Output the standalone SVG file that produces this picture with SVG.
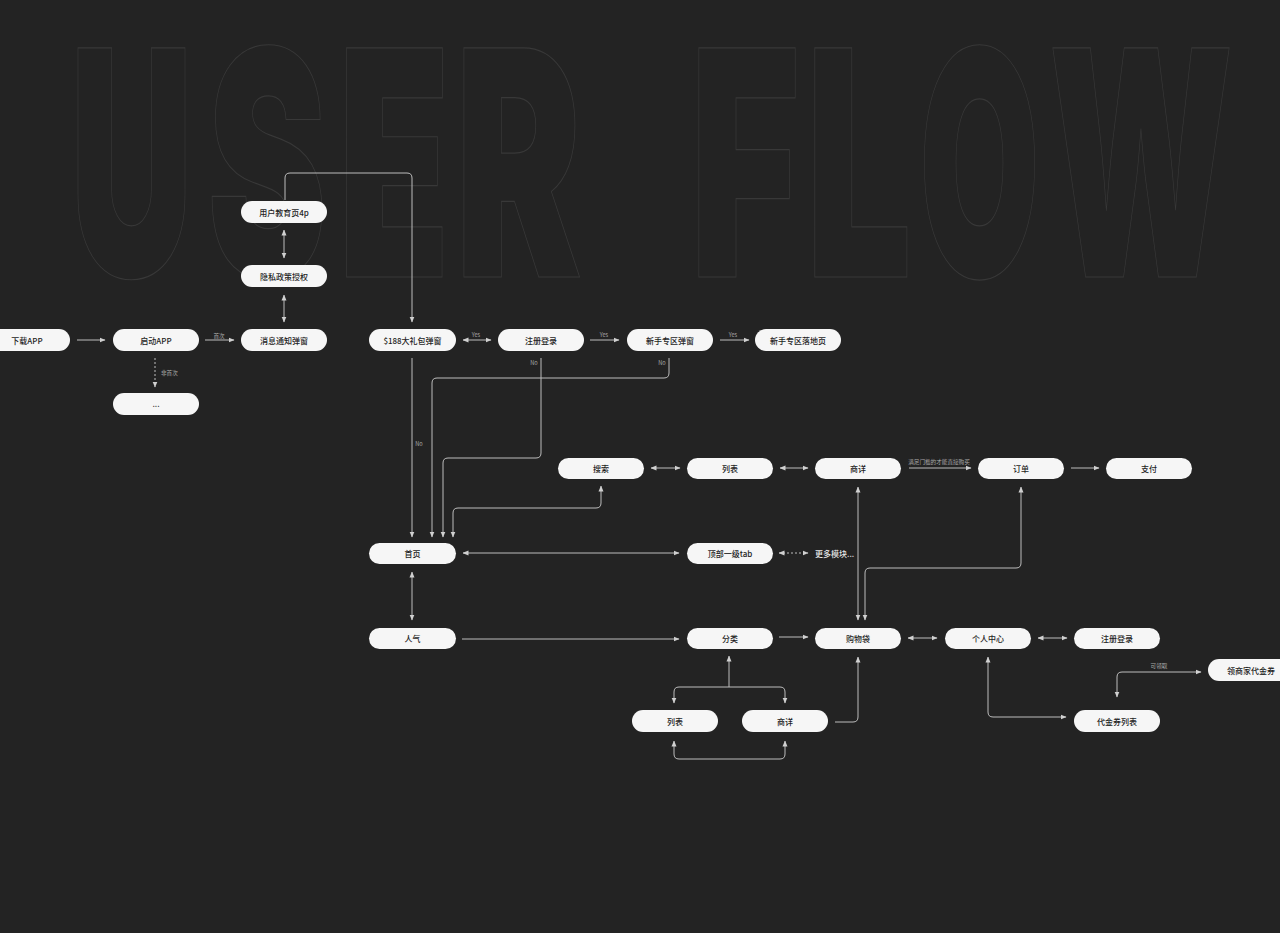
<svg xmlns="http://www.w3.org/2000/svg" width="1280" height="933" viewBox="0 0 1280 933">
<style>
.bg{fill:#232323}
.big{fill:none;stroke:#383838;stroke-width:1.2;font-family:Inter,"DejaVu Sans","Liberation Sans",sans-serif;font-weight:900;font-size:315px}
.pill{fill:#f6f6f6}
.nt{fill:#1e1e1e;font-family:"Noto Sans CJK SC","Noto Sans",sans-serif;font-size:8px;font-weight:500;text-anchor:middle;dominant-baseline:central}
.lab{fill:#a8a8a8;font-family:"Noto Sans CJK SC","Noto Sans",sans-serif;font-size:5.6px;text-anchor:middle}
.free{fill:#e8e8e8;font-family:"Noto Sans CJK SC","Noto Sans",sans-serif;font-size:8px;font-weight:500;dominant-baseline:central}
.c{fill:none;stroke:#bdbdbd;stroke-width:1}
.e{marker-end:url(#ah)}
.s{marker-start:url(#ah)}
.d{stroke-dasharray:2 2}
</style>
<defs>
<marker id="ah" viewBox="0 0 6 6" refX="5.5" refY="3" markerWidth="6" markerHeight="6" markerUnits="userSpaceOnUse" orient="auto-start-reverse">
<path d="M0,0.5 L6,3 L0,5.5 z" fill="#d0d0d0"/>
</marker>
</defs>
<rect class="bg" x="0" y="0" width="1280" height="933"/>
<g id="title">
<text class="big" x="70" y="277" textLength="123" lengthAdjust="spacingAndGlyphs">U</text>
<text class="big" x="207" y="277" textLength="120" lengthAdjust="spacingAndGlyphs">S</text>
<text class="big" x="338" y="277" textLength="112" lengthAdjust="spacingAndGlyphs">E</text>
<text class="big" x="455" y="277" textLength="127" lengthAdjust="spacingAndGlyphs">R</text>
<text class="big" x="690" y="277" textLength="110" lengthAdjust="spacingAndGlyphs">F</text>
<text class="big" x="806" y="277" textLength="106" lengthAdjust="spacingAndGlyphs">L</text>
<text class="big" x="919" y="277" textLength="121" lengthAdjust="spacingAndGlyphs">O</text>
<text class="big" x="1049" y="277" textLength="184" lengthAdjust="spacingAndGlyphs">W</text>
</g>
<g id="connectors">
<path class="c e" d="M77,340 H105"/>
<path class="c e" d="M205,340 H234"/>
<text class="lab" x="219" y="338">首次</text>
<path class="c e d" d="M155,358 V387"/>
<text class="lab" x="161" y="375" style="text-anchor:start">非首次</text>
<path class="c s e" d="M284,295 V322"/>
<path class="c s e" d="M284,230 V258"/>
<path class="c e" d="M285,200 V178 Q285,173 290,173 H407 Q412,173 412,178 V322"/>
<path class="c s e" d="M463,340 H491"/>
<text class="lab" x="476" y="337">Yes</text>
<path class="c e" d="M590,340 H619"/>
<text class="lab" x="604" y="337">Yes</text>
<path class="c e" d="M720,340 H749"/>
<text class="lab" x="733" y="337">Yes</text>
<path class="c e" d="M412,358 V537"/>
<text class="lab" x="419" y="446">No</text>
<path class="c e" d="M541,358 V453 Q541,458 536,458 H448 Q443,458 443,463 V537"/>
<text class="lab" x="534" y="365">No</text>
<path class="c e" d="M669,358 V373 Q669,378 664,378 H437 Q432,378 432,383 V537"/>
<text class="lab" x="662" y="365">No</text>
<path class="c s e" d="M601,486 V503 Q601,508 596,508 H458 Q453,508 453,513 V537"/>
<path class="c s e" d="M463,553 H679"/>
<path class="c s e d" d="M779,553 H808"/>
<path class="c s e" d="M412,572 V620"/>
<path class="c e" d="M462,639 H679"/>
<path class="c e" d="M779,637 H808"/>
<path class="c s e" d="M651,468 H680"/>
<path class="c s e" d="M780,468 H808"/>
<path class="c e" d="M909,468 H971"/>
<text class="lab" x="939" y="464">满足门槛的才能直接购买</text>
<path class="c e" d="M1071,468 H1099"/>
<path class="c s e" d="M858,487 V620"/>
<path class="c s e" d="M1021,487 V563 Q1021,568 1016,568 H870 Q865,568 865,573 V620"/>
<path class="c s" d="M729,656 V687"/>
<path class="c s e" d="M674,703 V692 Q674,687 679,687 H780 Q785,687 785,692 V703"/>
<path class="c s e" d="M674,741 V754 Q674,759 679,759 H780 Q785,759 785,754 V741"/>
<path class="c e" d="M835,722 H853 Q858,722 858,717 V657"/>
<path class="c s e" d="M908,638 H937"/>
<path class="c s e" d="M1038,638 H1067"/>
<path class="c s e" d="M988,657 V712 Q988,717 993,717 H1066"/>
<path class="c s e" d="M1117,697 V677 Q1117,672 1122,672 H1201"/>
<text class="lab" x="1159" y="668">可领取</text>
</g>
<g id="n-download"><rect class="pill" x="-16" y="329" width="86" height="22" rx="11"/><text class="nt" x="27" y="340">下载APP</text></g>
<g id="n-launch"><rect class="pill" x="113" y="329" width="86" height="22" rx="11"/><text class="nt" x="156" y="340">启动APP</text></g>
<g id="n-notify"><rect class="pill" x="241" y="329" width="86" height="22" rx="11"/><text class="nt" x="284" y="340">消息通知弹窗</text></g>
<g id="n-privacy"><rect class="pill" x="241" y="265" width="86" height="22" rx="11"/><text class="nt" x="284" y="276">隐私政策授权</text></g>
<g id="n-edu"><rect class="pill" x="241" y="201" width="86" height="22" rx="11"/><text class="nt" x="284" y="212">用户教育页4p</text></g>
<g id="n-more"><rect class="pill" x="113" y="393" width="86" height="22" rx="11"/><text class="nt" x="156" y="403">...</text></g>
<g id="n-gift"><rect class="pill" x="369" y="329" width="87" height="22" rx="11"/><text class="nt" x="412.5" y="340">$188大礼包弹窗</text></g>
<g id="n-register"><rect class="pill" x="498" y="329" width="86" height="22" rx="11"/><text class="nt" x="541" y="340">注册登录</text></g>
<g id="n-newpop"><rect class="pill" x="627" y="329" width="86" height="22" rx="11"/><text class="nt" x="670" y="340">新手专区弹窗</text></g>
<g id="n-newland"><rect class="pill" x="755" y="329" width="86" height="22" rx="11"/><text class="nt" x="798" y="340">新手专区落地页</text></g>
<g id="n-search"><rect class="pill" x="558" y="458" width="86" height="21" rx="10.5"/><text class="nt" x="601" y="468.5">搜索</text></g>
<g id="n-list"><rect class="pill" x="687" y="458" width="86" height="21" rx="10.5"/><text class="nt" x="730" y="468.5">列表</text></g>
<g id="n-detail"><rect class="pill" x="815" y="458" width="86" height="21" rx="10.5"/><text class="nt" x="858" y="468.5">商详</text></g>
<g id="n-order"><rect class="pill" x="978" y="458" width="86" height="21" rx="10.5"/><text class="nt" x="1021" y="468.5">订单</text></g>
<g id="n-pay"><rect class="pill" x="1106" y="458" width="86" height="21" rx="10.5"/><text class="nt" x="1149" y="468.5">支付</text></g>
<g id="n-home"><rect class="pill" x="369" y="543" width="87" height="21" rx="10.5"/><text class="nt" x="412.5" y="553.5">首页</text></g>
<g id="n-toptab"><rect class="pill" x="687" y="543" width="86" height="21" rx="10.5"/><text class="nt" x="730" y="553.5">顶部一级tab</text></g>
<g id="n-moremod"><text class="free" x="815" y="553.5">更多模块...</text></g>
<g id="n-popular"><rect class="pill" x="369" y="628" width="87" height="21" rx="10.5"/><text class="nt" x="412.5" y="638.5">人气</text></g>
<g id="n-category"><rect class="pill" x="687" y="628" width="86" height="21" rx="10.5"/><text class="nt" x="730" y="638.5">分类</text></g>
<g id="n-bag"><rect class="pill" x="815" y="628" width="86" height="21" rx="10.5"/><text class="nt" x="858" y="638.5">购物袋</text></g>
<g id="n-profile"><rect class="pill" x="945" y="628" width="86" height="21" rx="10.5"/><text class="nt" x="988" y="638.5">个人中心</text></g>
<g id="n-register2"><rect class="pill" x="1074" y="628" width="86" height="21" rx="10.5"/><text class="nt" x="1117" y="638.5">注册登录</text></g>
<g id="n-getcoupon"><rect class="pill" x="1208" y="659" width="86" height="22" rx="11"/><text class="nt" x="1251" y="670">领商家代金券</text></g>
<g id="n-list2"><rect class="pill" x="632" y="710" width="86" height="22" rx="11"/><text class="nt" x="675" y="721">列表</text></g>
<g id="n-detail2"><rect class="pill" x="742" y="710" width="86" height="22" rx="11"/><text class="nt" x="785" y="721">商详</text></g>
<g id="n-coupons"><rect class="pill" x="1074" y="710" width="86" height="22" rx="11"/><text class="nt" x="1117" y="721">代金券列表</text></g>
</svg>
